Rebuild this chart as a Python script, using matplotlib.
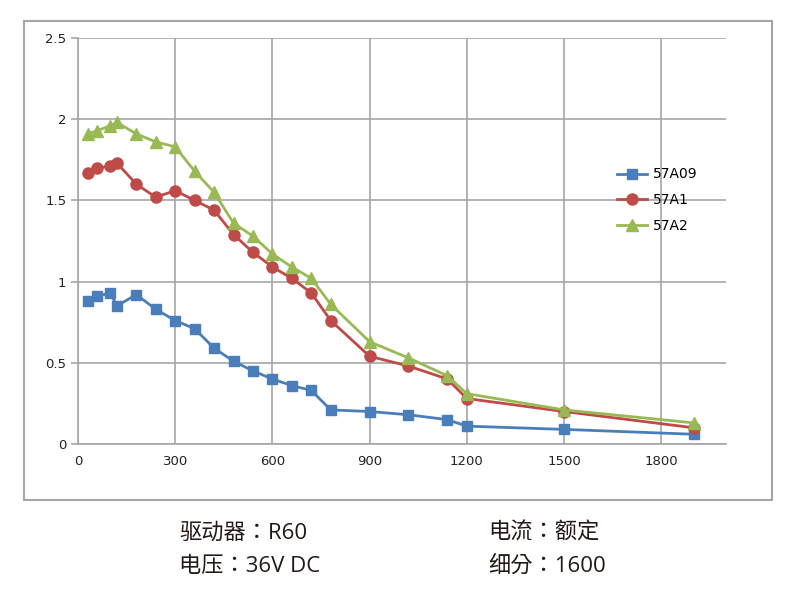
import matplotlib
matplotlib.use('Agg')
import matplotlib.pyplot as plt
from matplotlib.patches import Rectangle

# 转速 (x) 与 力矩 (y)
speed = [30, 60, 100, 120, 180, 240, 300, 360, 420, 480, 540, 600, 660, 720, 780,
         900, 1020, 1140, 1200, 1500, 1900]
t_57a09 = [0.88, 0.91, 0.93, 0.85, 0.92, 0.83, 0.76, 0.71, 0.59, 0.51, 0.45, 0.40,
           0.36, 0.33, 0.21, 0.20, 0.18, 0.15, 0.11, 0.09, 0.06]
t_57a1 = [1.67, 1.70, 1.71, 1.73, 1.60, 1.52, 1.56, 1.50, 1.44, 1.29, 1.18, 1.09,
          1.02, 0.93, 0.76, 0.54, 0.48, 0.40, 0.28, 0.20, 0.10]
t_57a2 = [1.91, 1.93, 1.96, 1.98, 1.91, 1.86, 1.83, 1.68, 1.55, 1.36, 1.28, 1.17,
          1.09, 1.02, 0.86, 0.63, 0.53, 0.42, 0.31, 0.21, 0.13]
labels = ['57A09', '57A1', '57A2']
info = [('驱动器：R60', '电流：额定'), ('电压：36V DC', '细分：1600')]

fig = plt.figure(figsize=(8, 6), dpi=100)
ax = fig.add_axes([78/800, 1 - 444/600, (726 - 78)/800, (444 - 38)/600])

grid_c = '#a6a6a6'
ax.plot(speed, t_57a09, '-s', color='#4a7ebb', lw=2, ms=7, label=labels[0])
ax.plot(speed, t_57a1, '-o', color='#be4b48', lw=2, ms=8, label=labels[1])
ax.plot(speed, t_57a2, '-^', color='#98b954', lw=2, ms=8, label=labels[2])

ax.set_xlim(0, 2000)
ax.set_ylim(0, 2.5)
ax.set_xticks(range(0, 1801, 300))
ax.set_yticks([0, 0.5, 1, 1.5, 2, 2.5])
ax.set_yticklabels(['0', '0.5', '1', '1.5', '2', '2.5'])
ax.grid(True, color=grid_c, lw=1.2)
ax.set_axisbelow(True)
for s in ['top', 'right']:
    ax.spines[s].set_visible(False)
for s in ['left', 'bottom']:
    ax.spines[s].set_color(grid_c)
    ax.spines[s].set_linewidth(1.2)
ax.tick_params(axis='both', colors=grid_c, length=5, width=1.2, labelcolor='#222222',
               labelsize=9.5)
ax.tick_params(axis='x', length=0, pad=8)

ax.legend(loc='upper left', bbox_to_anchor=(604/800, 1 - 155/600),
          bbox_transform=fig.transFigure, frameon=False, fontsize=10,
          handlelength=2.2, labelspacing=0.85, handletextpad=0.4)

fig.patches.append(Rectangle((24/800, 1 - 500/600), 748/800, 479/600,
                             transform=fig.transFigure, fill=False,
                             edgecolor=grid_c, lw=1.5))

fam = ['Open Sans', 'Noto Sans CJK TC']
for i, (a, b) in enumerate(info):
    y = 1 - (533 + 33*i)/600
    fig.text(179/800, y, a, family=fam, fontsize=16, va='center', color='#231815')
    fig.text(488/800, y, b, family=fam, fontsize=16, va='center', color='#231815')

fig.savefig('out.png', dpi=100)
